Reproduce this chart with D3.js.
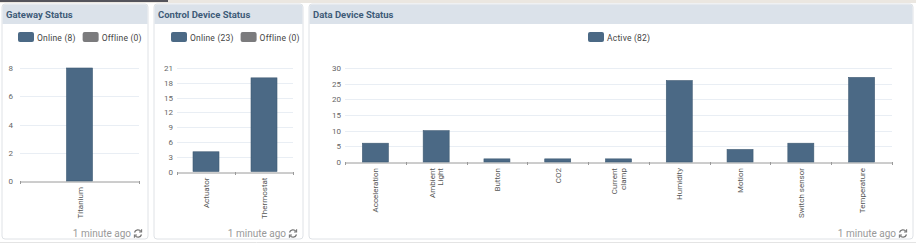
<!DOCTYPE html>
<html>
<head>
<meta charset="utf-8">
<script src="https://cdn.jsdelivr.net/npm/d3@7"></script>
<style>
  html, body { margin: 0; padding: 0; background: #ffffff; }
  svg { display: block; font-family: Roboto, "Liberation Sans", sans-serif; }
</style>
</head>
<body>
<svg id="chart" width="916" height="246"></svg>
<script>
// данные
const gatewayCats = ["Titanium"];
const gatewayValues = [8];
const gatewayTicks = [0, 2, 4, 6, 8];
const gatewayLegend = ["Online (8)", "Offline (0)"];

const controlCats = ["Actuator", "Thermostat"];
const controlValues = [4, 19];
const controlTicks = [0, 3, 6, 9, 12, 15, 18, 21];
const controlLegend = ["Online (23)", "Offline (0)"];

const dataCats = ["Acceleration", "Ambient Light", "Button", "CO2", "Current clamp", "Humidity", "Motion", "Switch sensor", "Temperature"];
const dataValues = [6, 10, 1, 1, 1, 26, 4, 6, 27];
const dataTicks = [0, 5, 10, 15, 20, 25, 30];
const dataLegend = ["Active (82)"];

const barColor = "#4b6985",
    offColor = "#7b7b7d",
    titleColor = "#3e5b78";

let svg = d3.select("#chart");

// фон страницы сверху
svg.append("rect").attr("x", 0).attr("y", 0).attr("width", 916).attr("height", 3).attr("fill", "#ebe7e1");
svg.append("rect").attr("x", 0).attr("y", 0).attr("width", 168).attr("height", 2).attr("fill", "#54545c");

const panels = [
    {x: 2, w: 146, title: "Gateway Status", cats: gatewayCats, values: gatewayValues, ticks: gatewayTicks,
        legend: gatewayLegend, legendX: 18, plot: {x0: 20, x1: 139, y0: 181, y1: 68}, labelX: 13},
    {x: 154, w: 149, title: "Control Device Status", cats: controlCats, values: controlValues, ticks: controlTicks,
        legend: controlLegend, legendX: 171, plot: {x0: 177, x1: 293, y0: 171.5, y1: 68}, labelX: 173},
    {x: 309, w: 604, title: "Data Device Status", cats: dataCats, values: dataValues, ticks: dataTicks,
        legend: dataLegend, legendX: 588, plot: {x0: 345, x1: 892, y0: 162, y1: 68}, labelX: 341}
];

panels.forEach(function (p) {
    let g = svg.append("g");
    // рамка панели
    g.append("rect")
        .attr("x", p.x).attr("y", 4).attr("width", p.w).attr("height", 235)
        .attr("rx", 3)
        .attr("fill", "#ffffff").attr("stroke", "#dfe2e6");
    g.append("path")
        .attr("d", "M" + (p.x + 0.5) + ",24 V7.5 a3,3 0 0 1 3,-3 H" + (p.x + p.w - 3.5) + " a3,3 0 0 1 3,3 V24 Z")
        .attr("fill", "#dbe2ea");
    g.append("text")
        .attr("x", p.x + 4).attr("y", 18)
        .attr("font-size", 9.5).attr("font-weight", "bold")
        .attr("fill", titleColor)
        .text(p.title);

    // легенда
    let lx = p.legendX;
    p.legend.forEach(function (label, i) {
        g.append("rect")
            .attr("x", lx).attr("y", 32).attr("width", 16).attr("height", 10).attr("rx", 2)
            .attr("fill", i === 0 ? barColor : offColor);
        let t = g.append("text")
            .attr("x", lx + 19).attr("y", 40.5)
            .attr("font-size", 8.5).attr("fill", "#444")
            .attr("letter-spacing", 0.2)
            .text(label);
        lx += 19 + t.node().getComputedTextLength() + 7;
    });

    let x = d3.scaleBand().domain(p.cats).range([p.plot.x0, p.plot.x1]);
    let y = d3.scaleLinear().domain([0, p.ticks[p.ticks.length - 1]]).range([p.plot.y0, p.plot.y1]);

    // сетка
    g.selectAll(".grid").data(p.ticks.slice(1)).enter()
        .append("line")
        .attr("x1", p.plot.x0).attr("x2", p.plot.x1)
        .attr("y1", function (d) { return Math.round(y(d)) + 0.5; })
        .attr("y2", function (d) { return Math.round(y(d)) + 0.5; })
        .attr("stroke", "#e9eef4");

    g.selectAll(".ytick").data(p.ticks).enter()
        .append("text")
        .attr("x", p.labelX).attr("y", function (d) { return y(d) + 3; })
        .attr("text-anchor", "end")
        .attr("font-size", 8).attr("fill", "#666")
        .text(function (d) { return d; });

    // ось X
    let xAxis = d3.axisBottom(x).tickSize(0).tickFormat("");
    let ax = g.append("g").attr("transform", "translate(0," + (Math.round(p.plot.y0) + 0.5) + ")").call(xAxis);
    ax.select(".domain").attr("stroke", "#9a9a9a");
    let bounds = p.cats.map(function (c) { return x(c); }).concat([p.plot.x1]);
    g.selectAll(".xtick").data(bounds).enter()
        .append("line")
        .attr("x1", function (d) { return Math.round(d) + 0.5; })
        .attr("x2", function (d) { return Math.round(d) + 0.5; })
        .attr("y1", Math.round(p.plot.y0)).attr("y2", Math.round(p.plot.y0) + 3)
        .attr("stroke", "#9a9a9a");

    // столбцы
    g.selectAll(".bar").data(p.values).enter()
        .append("rect")
        .attr("x", function (d, i) { return x(p.cats[i]) + x.bandwidth() / 2 - 13; })
        .attr("y", function (d) { return y(d); })
        .attr("width", 26)
        .attr("height", function (d) { return y(0) - y(d); })
        .attr("fill", barColor)
        .attr("stroke", "#3f5a73").attr("stroke-width", 0.6);

    // подписи категорий
    p.cats.forEach(function (c) {
        let cx = x(c) + x.bandwidth() / 2;
        let lines = c.split(" ");
        if (c === "Switch sensor") lines = [c];
        let t = g.append("text")
            .attr("transform", "translate(" + cx + "," + (p.plot.y0 + 6) + ") rotate(-90)")
            .attr("text-anchor", "end")
            .attr("font-size", 8).attr("fill", "#555");
        lines.forEach(function (ln, j) {
            t.append("tspan")
                .attr("x", 0)
                .attr("y", 3 + (j - (lines.length - 1) / 2) * 8.5)
                .text(ln);
        });
    });

    // подвал
    let fx = p.x + p.w - 3;
    g.append("text")
        .attr("x", fx - 14).attr("y", 237)
        .attr("text-anchor", "end")
        .attr("font-size", 10).attr("fill", "#999")
        .text("1 minute ago");
    let ic = g.append("g").attr("transform", "translate(" + (fx - 7) + ",233.5)")
        .attr("fill", "none").attr("stroke", "#777").attr("stroke-width", 1.3);
    ic.append("path").attr("d", "M-3.5,-1 A3.6,3.6 0 0 1 3,-2");
    ic.append("path").attr("d", "M3.5,1 A3.6,3.6 0 0 1 -3,2");
    ic.append("path").attr("d", "M3.6,-4.2 V-1.5 H1").attr("stroke-width", 1.1);
    ic.append("path").attr("d", "M-3.6,4.2 V1.5 H-1").attr("stroke-width", 1.1);
});

// нижняя граница
svg.append("line").attr("x1", 0).attr("x2", 916).attr("y1", 242.5).attr("y2", 242.5).attr("stroke", "#e4e4e4");
</script>
</body>
</html>
